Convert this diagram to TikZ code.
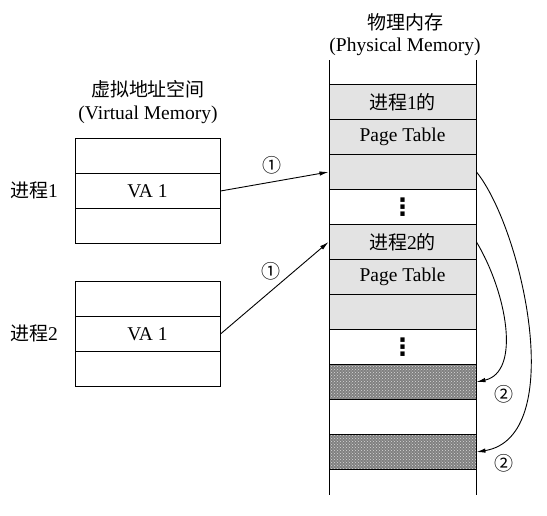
\documentclass[tikz,border=0pt]{standalone}
\usepackage{fontspec}
\setmainfont{Liberation Serif}
\newfontfamily\cjk{Noto Sans CJK SC}
\newfontfamily\symf{DejaVu Sans}
\newcommand{\zh}[1]{{\cjk\fontsize{19}{22}\selectfont #1}}
\usetikzlibrary{arrows.meta,patterns}
\begin{document}
\begin{tikzpicture}[x=1pt,y=-1pt,
  txt/.style={font=\fontsize{19.5}{22}\selectfont, inner sep=0pt},
  prow/.style={draw, line width=1pt, minimum width=147pt, minimum height=35pt, inner sep=0pt, anchor=north, font=\fontsize{19.5}{22}\selectfont},
  vrow/.style={draw, line width=1pt, minimum width=145pt, minimum height=35pt, inner sep=0pt, anchor=north, font=\fontsize{19.5}{22}\selectfont},
  shaded/.style={fill=gray!22},
  hatched/.style={preaction={fill=black!50}, pattern=crosshatch dots, pattern color=white!85!black},
  conn/.style={line width=0.9pt, -{Latex[length=9pt,width=4.5pt]}},
  circ/.style={font=\cjk\fontsize{19}{22}\selectfont, inner sep=0pt},
  vdot/.style={font=\symf\bfseries\fontsize{24}{24}\selectfont, inner sep=0pt}
]
\useasboundingbox (0,0) rectangle (547,515);

% Physical memory column
\coordinate (ctl) at (329,60);
\coordinate (cbl) at (329,495);
\coordinate (ctr) at (476,60);
\coordinate (cbr) at (476,495);
\draw[line width=1pt] (ctl) -- (cbl);
\draw[line width=1pt] (ctr) -- (cbr);

\node[prow,shaded] (p1) at (402.5,84) {\zh{进程}1\zh{的}};
\node[prow,shaded] (p2) at (402.5,119) {Page Table};
\node[prow,shaded] (p3) at (402.5,154) {};
\node[prow] (p4) at (402.5,189) {};
\node[prow,shaded] (p5) at (402.5,224) {\zh{进程}2\zh{的}};
\node[prow,shaded] (p6) at (402.5,259) {Page Table};
\node[prow,shaded] (p7) at (402.5,294) {};
\node[prow] (p8) at (402.5,329) {};
\node[prow,hatched] (p9) at (402.5,364) {};
\node[prow] (p10) at (402.5,399) {};
\node[prow,hatched] (p11) at (402.5,434) {};

% vertical ellipses
\node[vdot] (e1) at (p4.center) {⋮};
\node[vdot] (e2) at (p8.center) {⋮};

\node[txt,font=\cjk\fontsize{19}{22}\selectfont] (ptitle1) at (405,22) {物理内存};
\node[txt] (ptitle2) at (405,47) {(Physical Memory)};

% Virtual memory boxes
\node[txt,font=\cjk\fontsize{19}{22}\selectfont] (vtitle1) at (148,89) {虚拟地址空间};
\node[txt] (vtitle2) at (148,115) {(Virtual Memory)};

\node[vrow] (va) at (147.5,138) {};
\node[vrow] (vb) at (147.5,173) {VA 1};
\node[vrow] (vc) at (147.5,208) {};

\node[vrow] (wa) at (147.5,281) {};
\node[vrow] (wb) at (147.5,316) {VA 1};
\node[vrow] (wc) at (147.5,351) {};

\node[txt] (proc1) at (34,190) {\zh{进程}1};
\node[txt] (proc2) at (34,333) {\zh{进程}2};

% connectors
\draw[conn] (vb.east) -- (p3.west);
\draw[conn] (wb.east) -- (p5.west);
\node[circ] (c1) at (272,165) {①};
\node[circ] (c2) at (271,271) {①};

\draw[conn] (p3.east) .. controls +(46,57) and +(92,-15) .. (p11.east);
\draw[conn] (p5.east) .. controls +(30,50) and +(45,-10) .. (p9.east);
\node[circ] (c3) at (504,394) {②};
\node[circ] (c4) at (504,463) {②};
\end{tikzpicture}
\end{document}
